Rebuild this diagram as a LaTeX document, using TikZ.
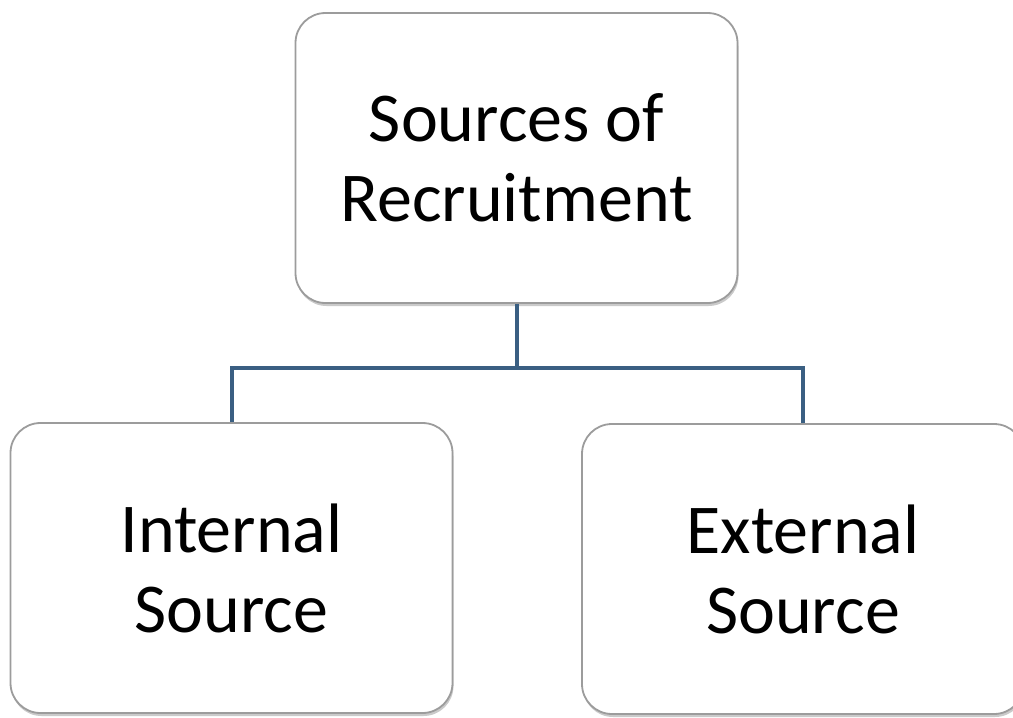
\documentclass[tikz,border=0pt]{standalone}
\usepackage{fontspec}
\setmainfont{Carlito}
\usepackage{tikz}
\usetikzlibrary{shapes, shadows}
\definecolor{linkblue}{HTML}{3A5F82}
\definecolor{boxgray}{HTML}{9C9C9C}

\begin{document}
\begin{tikzpicture}[x=1pt,y=1pt]
\tikzstyle{every node}+=[inner sep=0pt]
\tikzstyle{srcbox}=[draw=boxgray, line width=1.8pt, fill=white, rounded corners=30pt,
  minimum width=442pt, minimum height=290pt, align=center,
  font=\fontsize{70}{80}\selectfont, text depth=0pt,
  drop shadow={shadow xshift=1pt, shadow yshift=-3pt, opacity=0.35, fill=black!60}]
\tikzstyle{link}=[draw=linkblue, line width=4pt]
\useasboundingbox (0,0) rectangle (1013,-718);
\node [srcbox] (sources) at (516.5,-158) {Sources of\\Recruitment};
\node [srcbox] (internal) at (231.5,-568) {Internal\\Source};
\node [srcbox] (external) at (803,-569) {External\\Source};
\coordinate (split) at (516.5,-368);
\draw [link] (sources.south) -- (split);
\draw [link] (split) -| (internal.north);
\draw [link] (split) -| (external.north);
\end{tikzpicture}
\end{document}
